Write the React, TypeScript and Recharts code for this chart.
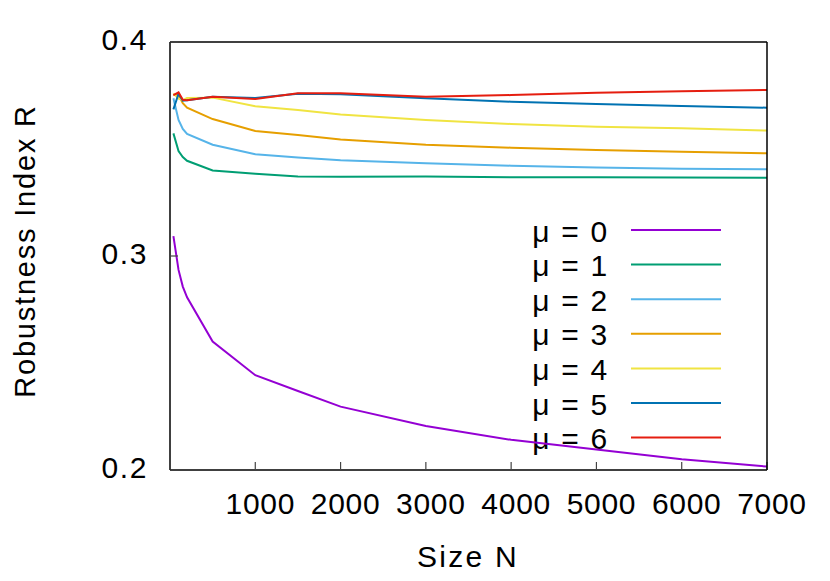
import React from 'react';
import { LineChart, Line, XAxis, YAxis } from 'recharts';

// Size N values (x) and robustness index per mu
const sizes = [40, 100, 150, 200, 500, 1000, 1500, 2000, 3000, 4000, 5000, 6000, 7000];
const mu0 = [0.3093, 0.2935, 0.2857, 0.2807, 0.26, 0.2443, 0.2369, 0.2296, 0.2206, 0.2141, 0.2096, 0.205, 0.2016];
const mu1 = [0.3573, 0.349, 0.3462, 0.3445, 0.34, 0.3384, 0.3372, 0.337, 0.3372, 0.3368, 0.3368, 0.3367, 0.3366];
const mu2 = [0.3737, 0.3636, 0.3594, 0.3571, 0.352, 0.3476, 0.346, 0.3447, 0.3433, 0.3422, 0.3413, 0.3408, 0.3405];
const mu3 = [0.3752, 0.3752, 0.3714, 0.3693, 0.364, 0.3584, 0.3565, 0.3544, 0.352, 0.3506, 0.3495, 0.3487, 0.348];
const mu4 = [0.376, 0.3735, 0.3728, 0.3738, 0.374, 0.37, 0.3682, 0.3661, 0.3636, 0.3617, 0.3604, 0.3597, 0.3586];
const mu5 = [0.3685, 0.3758, 0.3726, 0.3728, 0.3744, 0.3738, 0.3758, 0.3756, 0.3737, 0.3721, 0.371, 0.3701, 0.3693];
const mu6 = [0.3752, 0.3765, 0.373, 0.3728, 0.3744, 0.3734, 0.376, 0.376, 0.3744, 0.3752, 0.3763, 0.377, 0.3776];

const series = [mu0, mu1, mu2, mu3, mu4, mu5, mu6];
const labels = ['μ = 0', 'μ = 1', 'μ = 2', 'μ = 3', 'μ = 4', 'μ = 5', 'μ = 6'];
const colors = ['#9400d3', '#009e73', '#56b4e9', '#e69f00', '#f0e442', '#0072b2', '#e51e10'];

const xTicks = [1000, 2000, 3000, 4000, 5000, 6000, 7000];
const yTicks = [0.2, 0.3, 0.4];

const data = sizes.map((n, i) => {
  const row: Record<string, number> = { n };
  series.forEach((s, k) => (row[`r${k}`] = s[i]));
  return row;
});

const FONT = '"Liberation Sans", Arial, Helvetica, sans-serif';

const XTick = ({ x, y, payload }: any) => (
  <text x={x + 5} y={y + 43.5} textAnchor="middle" fontFamily={FONT} fontSize={30} letterSpacing={0.7} fill="#000">
    {payload.value}
  </text>
);

const YTick = ({ x, y, payload }: any) => (
  <text x={x - 22} y={y + 8} textAnchor="end" fontFamily={FONT} fontSize={30} letterSpacing={1.6} fill="#000">
    {Number(payload.value).toFixed(1)}
  </text>
);

export default function App() {
  return (
    <div style={{ position: 'absolute', left: 0, top: 0, background: '#fff' }}>
      <LineChart width={830} height={581} data={data} margin={{ top: 0, right: 0, bottom: 0, left: 0 }}>
        <XAxis
          dataKey="n"
          type="number"
          domain={[0, 7000]}
          ticks={xTicks}
          height={111}
          tickSize={-8}
          tickMargin={8}
          tick={<XTick />}
          axisLine={{ stroke: '#000', strokeWidth: 1.5 }}
          tickLine={{ stroke: '#444', strokeWidth: 1.2 }}
        />
        <XAxis
          xAxisId="top"
          orientation="top"
          type="number"
          domain={[0, 7000]}
          ticks={xTicks}
          height={42}
          tickSize={-8}
          tick={false}
          axisLine={{ stroke: '#000', strokeWidth: 1.5 }}
          tickLine={{ stroke: '#444', strokeWidth: 1.2 }}
        />
        <YAxis
          type="number"
          domain={[0.2, 0.4]}
          ticks={yTicks}
          width={170}
          tickSize={-8}
          tickMargin={8}
          tick={<YTick />}
          axisLine={{ stroke: '#000', strokeWidth: 1.5 }}
          tickLine={{ stroke: '#444', strokeWidth: 1.2 }}
        />
        <YAxis
          yAxisId="right"
          orientation="right"
          type="number"
          domain={[0.2, 0.4]}
          ticks={yTicks}
          width={63}
          tickSize={-8}
          tick={false}
          axisLine={{ stroke: '#000', strokeWidth: 1.5 }}
          tickLine={{ stroke: '#444', strokeWidth: 1.2 }}
        />
        {series.map((_, k) => (
          <Line
            key={k}
            type="linear"
            dataKey={`r${k}`}
            stroke={colors[k]}
            strokeWidth={2}
            dot={false}
            isAnimationActive={false}
          />
        ))}
        <text
          x={468}
          y={566.5}
          textAnchor="middle"
          fontFamily={FONT}
          fontSize={30}
          letterSpacing={2.3}
          fill="#000"
        >
          Size N
        </text>
        <text
          transform="translate(35,251) rotate(-90)"
          textAnchor="middle"
          fontFamily={FONT}
          fontSize={29}
          letterSpacing={1.8}
          fill="#000"
        >
          Robustness Index R
        </text>
        <g>
          {labels.map((lab, k) => (
            <g key={lab}>
              <text
                x={609}
                y={230 + k * 34.6 + 11.5}
                textAnchor="end"
                fontFamily={FONT}
                fontSize={30}
                letterSpacing={1.7}
                fill="#000"
              >
                {lab}
              </text>
              <line x1={631} x2={721} y1={230 + k * 34.6} y2={230 + k * 34.6} stroke={colors[k]} strokeWidth={2} />
            </g>
          ))}
        </g>
      </LineChart>
    </div>
  );
}
